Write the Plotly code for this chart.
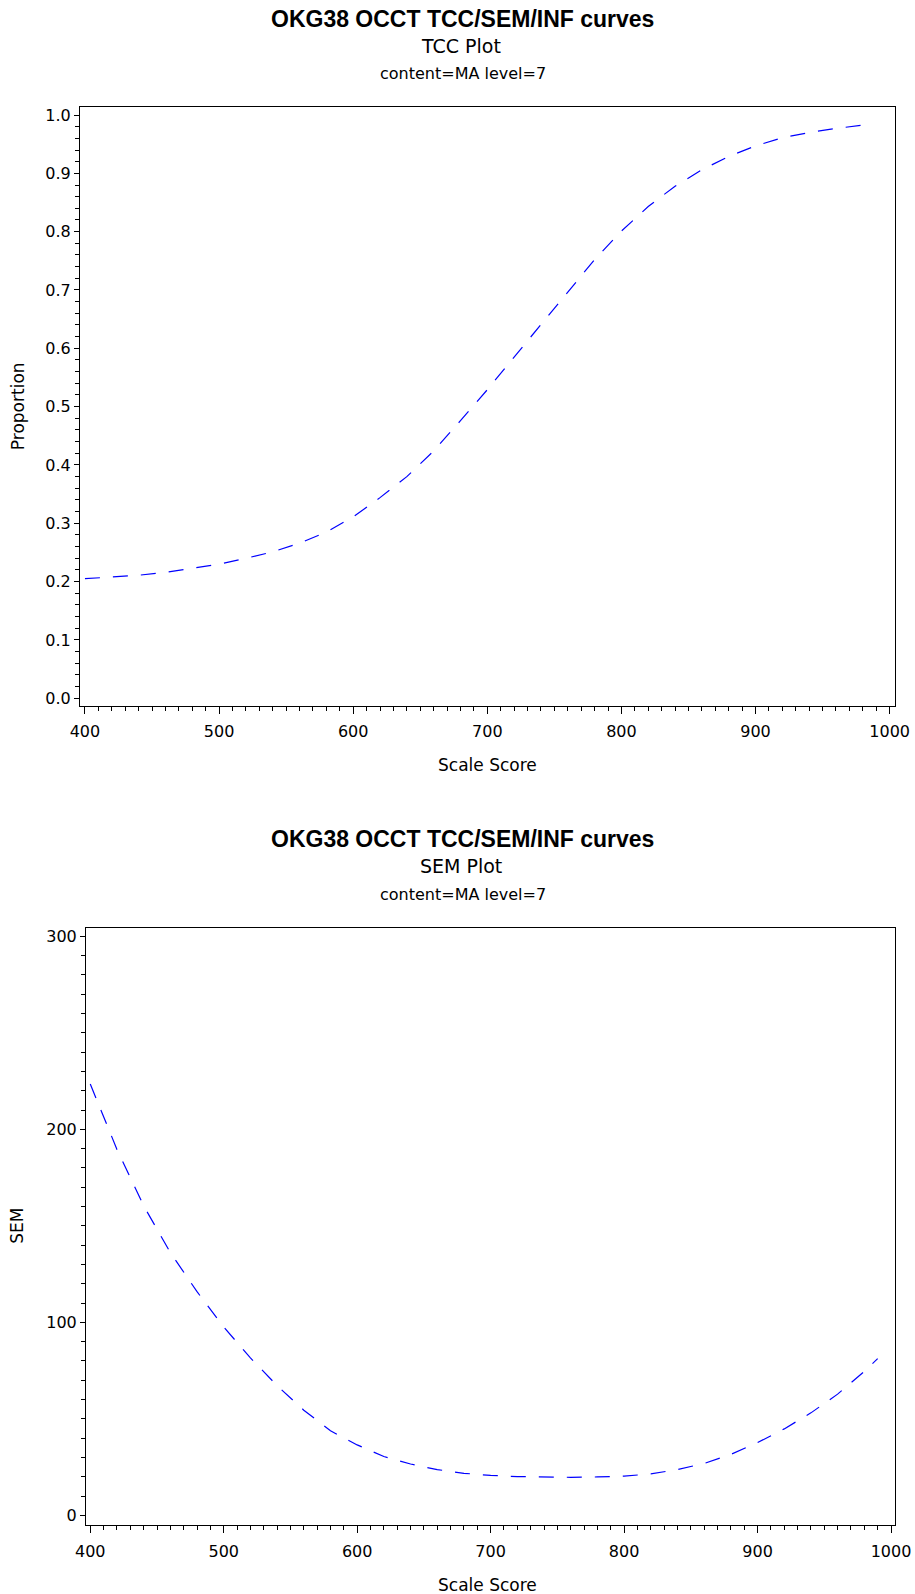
import plotly.graph_objects as go

# ---- data -------------------------------------------------------------
tcc_score = [400, 420, 440, 460, 480, 500, 520, 540, 560, 580, 600, 620, 640, 660, 680,
             700, 720, 740, 760, 780, 800, 820, 840, 860, 880, 900, 920, 940, 960, 980, 985]
tcc_prop = [0.205, 0.208, 0.211, 0.216, 0.223, 0.230, 0.240, 0.251, 0.266, 0.285, 0.311,
            0.344, 0.380, 0.424, 0.476, 0.529, 0.585, 0.641, 0.697, 0.752, 0.801, 0.843,
            0.878, 0.906, 0.929, 0.947, 0.961, 0.970, 0.977, 0.982, 0.984]

sem_score = [400, 420, 440, 460, 480, 500, 520, 540, 560, 580, 600, 620, 640, 660, 680,
             700, 720, 740, 760, 780, 800, 820, 840, 860, 880, 900, 920, 940, 960, 980, 990]
sem_value = [223.5, 189.6, 160.4, 136.2, 115.9, 97.6, 81.6, 67.2, 54.5, 43.8, 36.5, 30.5,
             26.6, 23.7, 21.8, 20.7, 20.1, 19.8, 19.7, 19.9, 20.3, 21.5, 23.7, 26.9, 31.6,
             37.7, 44.8, 53.1, 62.8, 74.6, 81.2]

main_title = "OKG38 OCCT TCC/SEM/INF curves"
subtitles = ["TCC Plot", "SEM Plot"]
by_line = "content=MA level=7"
x_title = "Scale Score"
y_titles = ["Proportion", "SEM"]

# ---- page geometry ----------------------------------------------------
W, H = 915, 1594
PANEL_SHIFT = 820.4          # vertical offset of the second panel


def px(x):
    return x / W


def py(y):
    return 1 - y / H


BODY = "DejaVu Sans, Verdana, sans-serif"
HEAD = "Liberation Sans, Arial, sans-serif"

line_style = dict(color="#0000FF", width=1.2, dash="15px,13px")

fig = go.Figure()
fig.add_trace(go.Scatter(x=tcc_score, y=tcc_prop, mode="lines", line=line_style,
                         xaxis="x", yaxis="y", showlegend=False, hoverinfo="skip"))
fig.add_trace(go.Scatter(x=sem_score, y=sem_value, mode="lines", line=line_style,
                         xaxis="x2", yaxis="y2", showlegend=False, hoverinfo="skip"))


def axis(domain, rng, dtick, minor, ticklen, fmt=None, anchor=None, standoff=0):
    a = dict(domain=domain, range=rng, dtick=dtick, tick0=0, ticks="outside",
             ticklen=ticklen, tickwidth=1, tickcolor="black", showline=True,
             linecolor="black", linewidth=1, mirror=True, showgrid=False,
             zeroline=False, automargin=False, ticklabelstandoff=standoff,
             tickfont=dict(family=BODY, size=16, color="black"),
             minor=dict(dtick=minor, tick0=0, ticks="outside", ticklen=4,
                        tickcolor="black", showgrid=False),
             fixedrange=True)
    if fmt:
        a["tickformat"] = fmt
    if anchor:
        a["anchor"] = anchor
    return a


top_box = (80, 895, 107.3, 706)
bot_box = (86, 895, 927.7, 1525)

fig.update_layout(
    width=W, height=H, autosize=False,
    margin=dict(l=0, r=0, t=0, b=0, pad=0),
    paper_bgcolor="white", plot_bgcolor="white",
    xaxis=axis([px(top_box[0]), px(top_box[1])], [396.3, 1004.0], 100, 10, 7,
               anchor="y", standoff=4),
    yaxis=axis([py(top_box[3]), py(top_box[2])], [-0.0132, 1.0132], 0.1, 0.02, 5,
               fmt=".1f", anchor="x"),
    xaxis2=axis([px(bot_box[0]), px(bot_box[1])], [396.8, 1003.0], 100, 10, 7,
                anchor="y2", standoff=5),
    yaxis2=axis([py(bot_box[3]), py(bot_box[2])], [-5.0, 304.5], 100, 10, 5,
                anchor="x2"),
)

annotations = []
for i in range(2):
    off = i * PANEL_SHIFT
    box = top_box if i == 0 else bot_box
    annotations += [
        dict(text="<b>" + main_title + "</b>", x=px(462), y=py(19 + off),
             font=dict(family=HEAD, size=23, color="black")),
        dict(text=subtitles[i], x=px(461), y=py(46 + off),
             font=dict(family=BODY, size=19, color="black")),
        dict(text=by_line, x=px(463), y=py(74 + off),
             font=dict(family=BODY, size=16, color="black")),
        dict(text=x_title, x=px(487.5), y=py(765 + off),
             font=dict(family=BODY, size=17, color="black")),
        dict(text=y_titles[i], x=px(17.5), y=py((box[2] + box[3]) / 2), textangle=-90,
             font=dict(family=BODY, size=17, color="black")),
    ]
for a in annotations:
    a.update(xref="paper", yref="paper", showarrow=False,
             xanchor="center", yanchor="middle")
fig.update_layout(annotations=annotations)

fig.write_html("out.html", config={"displayModeBar": False})
